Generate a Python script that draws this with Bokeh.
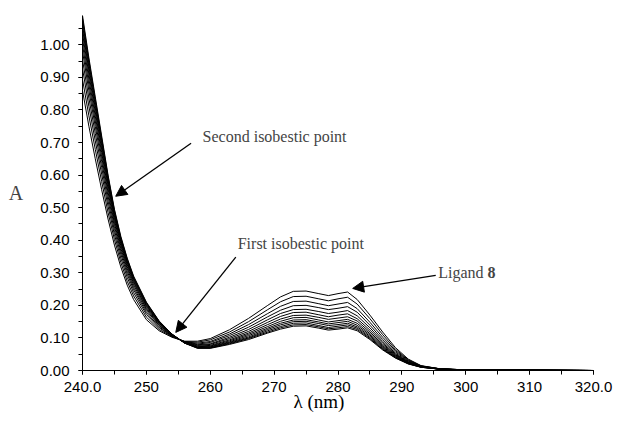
from bokeh.plotting import figure
from bokeh.models import Range1d, FixedTicker, Label, Arrow, NormalHead, Title
from bokeh.embed import file_html
from bokeh.resources import INLINE

# ---------------- data ----------------
wavelength = [240, 241, 242, 243, 244, 245, 246, 247, 248, 250, 252, 254, 256, 258, 260,
              263, 266, 269, 271, 273, 275, 277, 278.5, 280, 281.5, 283, 285, 287, 289,
              291, 293, 296, 300, 320]

abs_01 = [0.860, 0.750, 0.650, 0.555, 0.465, 0.385, 0.318, 0.262, 0.218, 0.156, 0.122, 0.102, 0.090, 0.090, 0.098, 0.125, 0.160, 0.200, 0.226, 0.243, 0.244, 0.236, 0.230, 0.236, 0.241, 0.218, 0.170, 0.118, 0.070, 0.035, 0.015, 0.005, 0.002, 0.000]
abs_02 = [0.894, 0.782, 0.679, 0.580, 0.485, 0.402, 0.332, 0.274, 0.229, 0.164, 0.126, 0.104, 0.089, 0.087, 0.094, 0.118, 0.150, 0.187, 0.211, 0.227, 0.228, 0.220, 0.214, 0.220, 0.225, 0.204, 0.159, 0.110, 0.065, 0.033, 0.014, 0.005, 0.002, 0.000]
abs_03 = [0.927, 0.811, 0.705, 0.603, 0.504, 0.417, 0.345, 0.286, 0.239, 0.172, 0.131, 0.105, 0.088, 0.084, 0.089, 0.112, 0.141, 0.175, 0.197, 0.212, 0.213, 0.205, 0.199, 0.204, 0.209, 0.190, 0.148, 0.102, 0.061, 0.031, 0.014, 0.005, 0.002, 0.000]
abs_04 = [0.954, 0.836, 0.728, 0.623, 0.520, 0.430, 0.357, 0.296, 0.248, 0.178, 0.134, 0.106, 0.088, 0.081, 0.086, 0.107, 0.133, 0.165, 0.185, 0.199, 0.200, 0.193, 0.187, 0.191, 0.196, 0.179, 0.139, 0.095, 0.057, 0.029, 0.013, 0.005, 0.002, 0.000]
abs_05 = [0.980, 0.859, 0.749, 0.641, 0.535, 0.442, 0.367, 0.305, 0.255, 0.184, 0.138, 0.107, 0.087, 0.079, 0.082, 0.102, 0.126, 0.156, 0.175, 0.187, 0.188, 0.181, 0.175, 0.179, 0.184, 0.168, 0.131, 0.089, 0.053, 0.027, 0.012, 0.005, 0.002, 0.000]
abs_06 = [1.000, 0.878, 0.766, 0.656, 0.547, 0.452, 0.375, 0.313, 0.262, 0.189, 0.140, 0.108, 0.086, 0.077, 0.080, 0.098, 0.120, 0.148, 0.166, 0.178, 0.179, 0.171, 0.165, 0.170, 0.174, 0.159, 0.124, 0.084, 0.050, 0.026, 0.012, 0.004, 0.002, 0.000]
abs_07 = [1.019, 0.895, 0.781, 0.669, 0.558, 0.461, 0.383, 0.319, 0.268, 0.193, 0.143, 0.109, 0.086, 0.075, 0.077, 0.094, 0.115, 0.141, 0.158, 0.169, 0.170, 0.163, 0.157, 0.161, 0.165, 0.152, 0.118, 0.080, 0.048, 0.025, 0.012, 0.004, 0.002, 0.000]
abs_08 = [1.035, 0.910, 0.794, 0.680, 0.568, 0.469, 0.389, 0.325, 0.273, 0.197, 0.145, 0.110, 0.085, 0.073, 0.075, 0.091, 0.111, 0.135, 0.151, 0.162, 0.163, 0.155, 0.149, 0.153, 0.157, 0.145, 0.113, 0.076, 0.046, 0.024, 0.011, 0.004, 0.002, 0.000]
abs_09 = [1.049, 0.922, 0.806, 0.690, 0.576, 0.475, 0.395, 0.330, 0.277, 0.200, 0.147, 0.110, 0.085, 0.072, 0.073, 0.088, 0.107, 0.130, 0.145, 0.155, 0.156, 0.149, 0.143, 0.147, 0.151, 0.139, 0.109, 0.073, 0.044, 0.023, 0.011, 0.004, 0.002, 0.000]
abs_10 = [1.060, 0.933, 0.815, 0.699, 0.582, 0.481, 0.400, 0.334, 0.281, 0.203, 0.148, 0.111, 0.085, 0.071, 0.072, 0.086, 0.103, 0.126, 0.140, 0.150, 0.151, 0.144, 0.138, 0.141, 0.145, 0.134, 0.105, 0.070, 0.042, 0.022, 0.011, 0.004, 0.002, 0.000]
abs_11 = [1.072, 0.943, 0.825, 0.707, 0.589, 0.486, 0.404, 0.338, 0.284, 0.206, 0.150, 0.111, 0.084, 0.070, 0.070, 0.084, 0.100, 0.122, 0.135, 0.145, 0.146, 0.138, 0.132, 0.136, 0.140, 0.130, 0.101, 0.067, 0.041, 0.021, 0.010, 0.004, 0.002, 0.000]
abs_12 = [1.081, 0.952, 0.832, 0.713, 0.595, 0.491, 0.408, 0.342, 0.287, 0.208, 0.151, 0.112, 0.084, 0.069, 0.069, 0.082, 0.098, 0.118, 0.131, 0.140, 0.141, 0.134, 0.128, 0.131, 0.135, 0.126, 0.098, 0.065, 0.039, 0.021, 0.010, 0.004, 0.002, 0.000]
abs_13 = [1.090, 0.960, 0.840, 0.720, 0.600, 0.495, 0.412, 0.345, 0.290, 0.210, 0.152, 0.112, 0.084, 0.068, 0.068, 0.080, 0.095, 0.115, 0.127, 0.136, 0.137, 0.130, 0.124, 0.127, 0.131, 0.122, 0.095, 0.063, 0.038, 0.020, 0.010, 0.004, 0.002, 0.000]

spectra = [abs_01, abs_02, abs_03, abs_04, abs_05, abs_06, abs_07, abs_08, abs_09,
           abs_10, abs_11, abs_12, abs_13]

x_ticks = [240, 250, 260, 270, 280, 290, 300, 310, 320]
x_tick_labels = ["240.0", "250", "260", "270", "280", "290", "300", "310", "320.0"]
x_minor = [240, 245, 250, 255, 260, 265, 270, 275, 280, 285, 290, 295, 300, 305, 310, 315, 320]
y_ticks = [0.0, 0.1, 0.2, 0.3, 0.4, 0.5, 0.6, 0.7, 0.8, 0.9, 1.0]
y_tick_labels = ["0.00", "0.10", "0.20", "0.30", "0.40", "0.50", "0.60", "0.70", "0.80", "0.90", "1.00"]
y_minor = [0.0, 0.05, 0.1, 0.15, 0.2, 0.25, 0.3, 0.35, 0.4, 0.45, 0.5, 0.55, 0.6, 0.65,
           0.7, 0.75, 0.8, 0.85, 0.9, 0.95, 1.0, 1.05]

SERIF = "Liberation Serif"
SANS = "Liberation Sans"

p = figure(frame_width=511, frame_height=355, output_backend="svg", toolbar_location=None,
           x_range=Range1d(240, 320), y_range=Range1d(0, 1.09),
           min_border_left=82, min_border_right=27, min_border_top=15, min_border_bottom=50)
p.background_fill_color = "white"
p.border_fill_color = "white"
p.outline_line_color = None
p.xgrid.grid_line_color = None
p.ygrid.grid_line_color = None

for s in spectra:
    p.line(wavelength, s, line_color="black", line_width=1)

for ax, ticks, labels, minor in ((p.xaxis[0], x_ticks, x_tick_labels, x_minor),
                                 (p.yaxis[0], y_ticks, y_tick_labels, y_minor)):
    ax.ticker = FixedTicker(ticks=ticks, minor_ticks=minor)
    ax.major_label_overrides = {t: l for t, l in zip(ticks, labels)}
    ax.axis_line_color = "black"
    ax.axis_line_width = 1
    ax.major_tick_line_color = "black"
    ax.minor_tick_line_color = "black"
    ax.major_tick_in = 0
    ax.major_tick_out = 4
    ax.minor_tick_in = 0
    ax.minor_tick_out = 4
    ax.major_label_text_font = SANS
    ax.major_label_text_font_size = "15px"
    ax.major_label_text_color = "black"

p.xaxis.major_label_standoff = 7
p.yaxis.major_label_standoff = 9

# axis titles
p.yaxis.axis_label = "A"
p.yaxis.axis_label_orientation = "horizontal"
p.yaxis.axis_label_text_font = SERIF
p.yaxis.axis_label_text_font_size = "20px"
p.yaxis.axis_label_text_font_style = "normal"
p.yaxis.axis_label_standoff = 14

p.add_layout(Title(text="λ (nm)", align="left", offset=211, standoff=-11,
                   text_font=SERIF, text_font_size="19px", text_font_style="normal",
                   text_color="black"), "below")

# annotations
p.add_layout(Label(x=258.8, y=0.717, text="Second isobestic point", text_font=SERIF,
                   text_font_size="16px", text_baseline="alphabetic"))
p.add_layout(Label(x=264.3, y=0.39, text="First isobestic point", text_font=SERIF,
                   text_font_size="16px", text_baseline="alphabetic"))
p.add_layout(Label(x=295.7, y=0.301, text="Ligand", text_font=SERIF,
                   text_font_size="16px", text_baseline="alphabetic"))
p.add_layout(Label(x=303.4, y=0.301, text="8", text_font=SERIF, text_font_style="bold",
                   text_font_size="16px", text_baseline="alphabetic"))

def head():
    return NormalHead(size=11, fill_color="black", line_color="black", line_width=1)

p.add_layout(Arrow(end=head(), x_start=257.0, y_start=0.698, x_end=245.2, y_end=0.535,
                   line_color="black", line_width=1.3))
p.add_layout(Arrow(end=head(), x_start=264.0, y_start=0.348, x_end=254.6, y_end=0.117,
                   line_color="black", line_width=1.3))
p.add_layout(Arrow(end=head(), x_start=295.3, y_start=0.292, x_end=282.3, y_end=0.252,
                   line_color="black", line_width=1.3))

open("out.html", "w").write(file_html(p, INLINE))
